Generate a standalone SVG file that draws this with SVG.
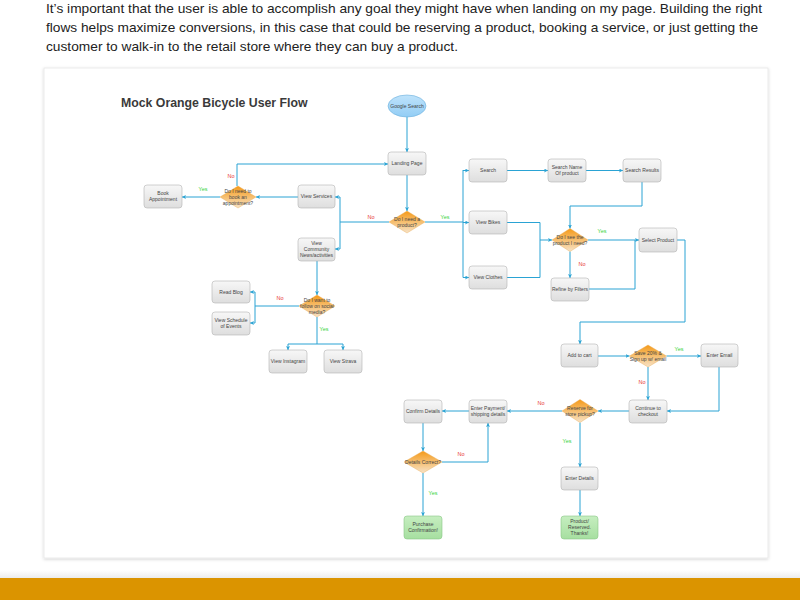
<svg xmlns="http://www.w3.org/2000/svg" width="800" height="600" viewBox="0 0 800 600">
<defs>
<linearGradient id="gBox" x1="0" y1="0" x2="0" y2="1"><stop offset="0" stop-color="#f7f7f7"/><stop offset="1" stop-color="#dedede"/></linearGradient>
<linearGradient id="gDia" x1="0" y1="0" x2="0" y2="1"><stop offset="0" stop-color="#f59a18"/><stop offset="1" stop-color="#f7e3c8"/></linearGradient>
<linearGradient id="gGreen" x1="0" y1="0" x2="0" y2="1"><stop offset="0" stop-color="#c6eec0"/><stop offset="1" stop-color="#a6dfa0"/></linearGradient>
<linearGradient id="gEll" x1="0" y1="0" x2="0" y2="1"><stop offset="0" stop-color="#bfe3fb"/><stop offset="1" stop-color="#92cdf5"/></linearGradient>
<linearGradient id="gShade" x1="0" y1="0" x2="0" y2="1"><stop offset="0" stop-color="#ffffff"/><stop offset="1" stop-color="#ececec"/></linearGradient>
<filter id="sh" x="-5%" y="-5%" width="110%" height="110%"><feDropShadow dx="0" dy="1" stdDeviation="1.5" flood-color="#000" flood-opacity="0.18"/></filter>
<marker id="ar" viewBox="0 0 6 6" refX="6" refY="3" markerWidth="4" markerHeight="4" markerUnits="userSpaceOnUse" orient="auto"><path d="M0,0 L6,3 L0,6 L1.5,3 z" fill="#2aa3d4"/></marker>
<style>
.para{font-family:"Liberation Sans",Arial,sans-serif;font-size:13px;fill:#222}
.title{font-family:"Liberation Sans",Arial,sans-serif;font-size:12.3px;font-weight:bold;fill:#3a3a3a}
.box{fill:url(#gBox);stroke:#b4b4b4;stroke-width:0.6}
.grn{fill:url(#gGreen);stroke:#8ac886;stroke-width:0.6}
.dia{fill:url(#gDia);stroke:#e8a850;stroke-width:0.4}
.t{font-family:"Liberation Sans",Arial,sans-serif;font-size:5px;fill:#444;text-anchor:middle}
.c path{fill:none;stroke:#2aa3d4;stroke-width:1}
.yes{font-family:"Liberation Sans",Arial,sans-serif;font-size:5.5px;fill:#3ad43a;text-anchor:middle}
.no{font-family:"Liberation Sans",Arial,sans-serif;font-size:5.5px;fill:#e83a3a;text-anchor:middle}
</style>
</defs>
<rect x="0" y="0" width="800" height="600" fill="#ffffff"/>
<text class="para" x="46" y="13" textLength="716" lengthAdjust="spacingAndGlyphs">It’s important that the user is able to accomplish any goal they might have when landing on my page. Building the right</text>
<text class="para" x="46" y="32" textLength="712" lengthAdjust="spacingAndGlyphs">flows helps maximize conversions, in this case that could be reserving a product, booking a service, or just getting the</text>
<text class="para" x="46" y="51" textLength="412" lengthAdjust="spacingAndGlyphs">customer to walk-in to the retail store where they can buy a product.</text>
<rect x="44" y="68" width="724" height="490" fill="#ffffff" stroke="#e6e6e6" stroke-width="0.8" filter="url(#sh)"/>
<rect x="0" y="570" width="800" height="8" fill="url(#gShade)"/>
<rect x="0" y="578" width="800" height="22" fill="#db9400"/>
<text class="title" x="121" y="107">Mock Orange Bicycle User Flow</text>

<g class="c" id="connectors">
<path d="M407 117 V152" marker-end="url(#ar)"/>
<path d="M407 175 V211" marker-end="url(#ar)"/>
<path d="M389 222 H340"/>
<path d="M340 197 V249"/>
<path d="M340 197 H335" marker-end="url(#ar)"/>
<path d="M340 249 H335" marker-end="url(#ar)"/>
<path d="M425 222 H463"/>
<path d="M463 170 V277.5"/>
<path d="M463 170.5 H469" marker-end="url(#ar)"/>
<path d="M463 222.5 H469" marker-end="url(#ar)"/>
<path d="M463 277.5 H469" marker-end="url(#ar)"/>
<path d="M298 197 H256" marker-end="url(#ar)"/>
<path d="M220 197 H182" marker-end="url(#ar)"/>
<path d="M237 186 V164 H388" marker-end="url(#ar)"/>
<path d="M317 261 V295" marker-end="url(#ar)"/>
<path d="M299 306 H255"/>
<path d="M255 292 V323"/>
<path d="M255 292 H250" marker-end="url(#ar)"/>
<path d="M255 323 H250" marker-end="url(#ar)"/>
<path d="M317 317 V344"/>
<path d="M288 344 H343"/>
<path d="M288 344 V350" marker-end="url(#ar)"/>
<path d="M343 344 V350" marker-end="url(#ar)"/>
<path d="M507 170.5 H548" marker-end="url(#ar)"/>
<path d="M586 170.5 H623" marker-end="url(#ar)"/>
<path d="M642 182 V206 H570 V228.5" marker-end="url(#ar)"/>
<path d="M507 222.5 H540 V277.5 H507"/>
<path d="M540 240 H552" marker-end="url(#ar)"/>
<path d="M588 240 H639" marker-end="url(#ar)"/>
<path d="M570 251.5 V278" marker-end="url(#ar)"/>
<path d="M589 289 H635 V240"/>
<path d="M677 240 H685 V322 H580 V344" marker-end="url(#ar)"/>
<path d="M598 356 H629.5" marker-end="url(#ar)"/>
<path d="M666.5 356 H701" marker-end="url(#ar)"/>
<path d="M648 367 V400" marker-end="url(#ar)"/>
<path d="M719 367 V411 H667" marker-end="url(#ar)"/>
<path d="M629 411 H598" marker-end="url(#ar)"/>
<path d="M562 411 H507" marker-end="url(#ar)"/>
<path d="M469 411 H442" marker-end="url(#ar)"/>
<path d="M423 423 V451" marker-end="url(#ar)"/>
<path d="M442 462 H488 V423" marker-end="url(#ar)"/>
<path d="M423 473 V516" marker-end="url(#ar)"/>
<path d="M580 422.5 V467" marker-end="url(#ar)"/>
<path d="M580 490 V516" marker-end="url(#ar)"/>
</g>

<g id="labels">
<text class="no" x="371" y="219">No</text>
<text class="yes" x="445" y="219">Yes</text>
<text class="yes" x="203" y="191">Yes</text>
<text class="no" x="231" y="178">No</text>
<text class="no" x="280" y="300">No</text>
<text class="yes" x="324" y="331">Yes</text>
<text class="yes" x="602" y="233">Yes</text>
<text class="no" x="582" y="266">No</text>
<text class="yes" x="679" y="351">Yes</text>
<text class="no" x="642" y="384">No</text>
<text class="no" x="541" y="405">No</text>
<text class="no" x="461" y="456">No</text>
<text class="yes" x="433" y="495">Yes</text>
<text class="yes" x="567" y="443">Yes</text>
</g>

<g id="google"><ellipse cx="407" cy="106" rx="19" ry="11" fill="url(#gEll)" stroke="#6aaedc" stroke-width="0.6"/><text class="t" x="407" y="107.8">Google Search</text></g>
<g id="landing"><rect class="box" x="388" y="152" width="38" height="23" rx="3"/><text class="t" x="407" y="165.3">Landing Page</text></g>
<g id="needProduct"><polygon class="dia" points="407,211 425,222 407,233 389,222"/><text class="t" x="407" y="220.5">Do I need a</text><text class="t" x="407" y="226.5">product?</text></g>
<g id="viewServices"><rect class="box" x="298" y="185" width="37" height="23" rx="3"/><text class="t" x="316.5" y="198.3">View Services</text></g>
<g id="viewCommunity"><rect class="box" x="298" y="238" width="37" height="23" rx="3"/><text class="t" x="316.5" y="244.5">View</text><text class="t" x="316.5" y="250.5">Community</text><text class="t" x="316.5" y="256.5">News/activities</text></g>
<g id="bookDiamond"><polygon class="dia" points="238,186 256,197 238,208 220,197"/><text class="t" x="238" y="192.5">Do I need to</text><text class="t" x="238" y="198.5">book an</text><text class="t" x="238" y="204.5">appointment?</text></g>
<g id="bookAppt"><rect class="box" x="144" y="185" width="38" height="23" rx="3"/><text class="t" x="163" y="195">Book</text><text class="t" x="163" y="201">Appointment</text></g>
<g id="socialDiamond"><polygon class="dia" points="317,295 335,306 317,317 299,306"/><text class="t" x="317" y="301.5">Do I want to</text><text class="t" x="317" y="307.5">follow on social</text><text class="t" x="317" y="313.5">media?</text></g>
<g id="readBlog"><rect class="box" x="212" y="281" width="38" height="22" rx="3"/><text class="t" x="231" y="293.8">Read Blog</text></g>
<g id="viewSchedule"><rect class="box" x="212" y="312" width="38" height="23" rx="3"/><text class="t" x="231" y="322">View Schedule</text><text class="t" x="231" y="328">of Events</text></g>
<g id="viewInstagram"><rect class="box" x="269" y="350" width="38" height="23" rx="3"/><text class="t" x="288" y="363.3">View Instagram</text></g>
<g id="viewStrava"><rect class="box" x="324" y="350" width="38" height="23" rx="3"/><text class="t" x="343" y="363.3">View Strava</text></g>
<g id="search"><rect class="box" x="469" y="159" width="38" height="23" rx="3"/><text class="t" x="488" y="172.3">Search</text></g>
<g id="searchName"><rect class="box" x="548" y="159" width="38" height="23" rx="3"/><text class="t" x="567" y="169">Search Name</text><text class="t" x="567" y="175">Of product</text></g>
<g id="searchResults"><rect class="box" x="623" y="159" width="38" height="23" rx="3"/><text class="t" x="642" y="172.3">Search Results</text></g>
<g id="viewBikes"><rect class="box" x="469" y="211" width="38" height="23" rx="3"/><text class="t" x="488" y="224.3">View Bikes</text></g>
<g id="viewClothes"><rect class="box" x="469" y="266" width="38" height="23" rx="3"/><text class="t" x="488" y="279.3">View Clothes</text></g>
<g id="seeDiamond"><polygon class="dia" points="570,228.5 588,240 570,251.5 552,240"/><text class="t" x="570" y="238.5">Do I see the</text><text class="t" x="570" y="244.5">product I need?</text></g>
<g id="refine"><rect class="box" x="551" y="278" width="38" height="23" rx="3"/><text class="t" x="570" y="291.3">Refine by Filters</text></g>
<g id="selectProduct"><rect class="box" x="639" y="228" width="38" height="24" rx="3"/><text class="t" x="658" y="241.8">Select Product</text></g>
<g id="addCart"><rect class="box" x="561" y="344" width="37" height="23" rx="3"/><text class="t" x="579.5" y="357.3">Add to cart</text></g>
<g id="saveDiamond"><polygon class="dia" points="648,345 666.5,356 648,367 629.5,356"/><text class="t" x="648" y="354.5">Save 20% &amp;</text><text class="t" x="648" y="360.5">Sign up w/ email</text></g>
<g id="enterEmail"><rect class="box" x="701" y="344" width="37" height="23" rx="3"/><text class="t" x="719.5" y="357.3">Enter Email</text></g>
<g id="continue"><rect class="box" x="629" y="400" width="38" height="23" rx="3"/><text class="t" x="648" y="410">Continue to</text><text class="t" x="648" y="416">checkout</text></g>
<g id="reserveDiamond"><polygon class="dia" points="580,399.5 598,411 580,422.5 562,411"/><text class="t" x="580" y="409.5">Reserve for</text><text class="t" x="580" y="415.5">store pickup?</text></g>
<g id="enterPayment"><rect class="box" x="469" y="400" width="38" height="23" rx="3"/><text class="t" x="488" y="410">Enter Payment/</text><text class="t" x="488" y="416">shipping details</text></g>
<g id="confirm"><rect class="box" x="404" y="400" width="38" height="23" rx="3"/><text class="t" x="423" y="413.3">Confirm Details</text></g>
<g id="detailsDiamond"><polygon class="dia" points="423,451 442,462 423,473 404,462"/><text class="t" x="423" y="463.8">Details Correct?</text></g>
<g id="purchase"><rect class="grn" x="404" y="516" width="38" height="23" rx="3"/><text class="t" x="423" y="526">Purchase</text><text class="t" x="423" y="532">Confirmation!</text></g>
<g id="enterDetails"><rect class="box" x="561" y="467" width="37" height="23" rx="3"/><text class="t" x="579.5" y="480.3">Enter Details</text></g>
<g id="productReserved"><rect class="grn" x="561" y="516" width="37" height="23" rx="3"/><text class="t" x="579.5" y="523">Product/</text><text class="t" x="579.5" y="529">Reserved.</text><text class="t" x="579.5" y="535">Thanks!</text></g>
</svg>
